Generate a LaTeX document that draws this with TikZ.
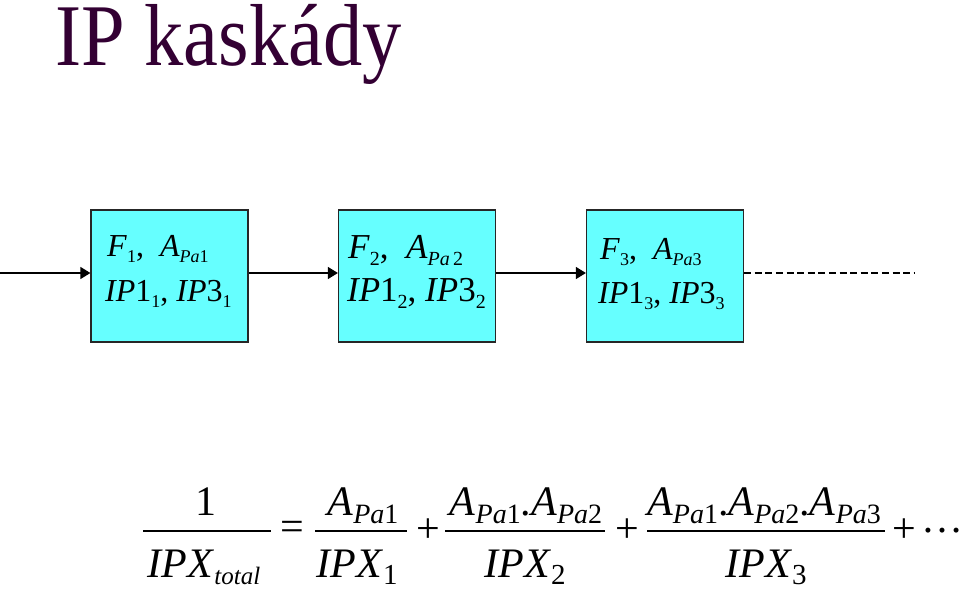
\documentclass[tikz,border=0pt]{standalone}
\usepackage{fontspec}
\setmainfont{Liberation Serif}
\usetikzlibrary{arrows.meta}
\definecolor{boxcyan}{RGB}{102,255,255}
\definecolor{titlepurple}{RGB}{51,0,51}
\newcommand\bsub[1]{\raisebox{-6pt}{\fontsize{18}{20}\selectfont #1}}
\newcommand\bsubb[1]{\raisebox{-7pt}{\fontsize{20}{22}\selectfont #1}}
\newcommand\fsb[1]{\raisebox{-8pt}{\fontsize{28}{30}\selectfont #1}}
\newcommand\dsb[1]{\raisebox{-7pt}{\fontsize{29}{30}\selectfont #1}}
\tikzset{
  stage/.style={draw=black!85, line width=1.2pt, fill=boxcyan,
    minimum width=157pt, minimum height=132pt, inner sep=0pt},
  boxtxt/.style={anchor=base west, inner sep=0pt, font=\fontsize{32}{36}\selectfont},
  boxtxtb/.style={anchor=base west, inner sep=0pt, font=\fontsize{35}{38}\selectfont},
  arr/.style={line width=1.2pt, -{Triangle[length=10pt,width=12pt]}},
  eqtxt/.style={anchor=base, inner sep=0pt, font=\fontsize{42}{46}\selectfont},
  eqop/.style={inner sep=0pt, font=\fontsize{42}{46}\selectfont},
  fbar/.style={line width=1.6pt},
}
\begin{document}
\begin{tikzpicture}[x=1pt,y=-1pt]
\useasboundingbox (0,0) rectangle (960,589);
% title
\node[anchor=base west, inner sep=0pt, text=titlepurple] (title) at (55,65)
  {\scalebox{0.98}[1.1]{\fontsize{80}{90}\selectfont IP kaskády}};
% boxes
\node[stage] (b1) at (169.5,276) {};
\node[stage] (b2) at (417,276) {};
\node[stage] (b3) at (665,276) {};
% box texts
\node[boxtxt] (t1a) at (107,256) {\textit{F}\bsub{1}, \ \textit{A}\bsub{\textit{Pa}1}};
\node[boxtxt] (t1b) at (105,301) {\textit{IP}1\bsub{1}, \textit{IP}3\bsub{1}};
\node[boxtxtb] (t2a) at (348,258) {\textit{F}\bsubb{2}, \ \textit{A}\bsubb{\textit{Pa}\,2}};
\node[boxtxtb] (t2b) at (347,301) {\textit{IP}1\bsubb{2}, \textit{IP}3\bsubb{2}};
\node[boxtxt] (t3a) at (600,259) {\textit{F}\bsub{3}, \ \textit{A}\bsub{\textit{Pa}3}};
\node[boxtxt] (t3b) at (598,303) {\textit{IP}1\bsub{3}, \textit{IP}3\bsub{3}};
% connectors
\coordinate (in) at (0,273);
\coordinate (out) at (915,273);
\draw[arr] (in) -- ([yshift=3pt]b1.west);
\draw[arr] ([yshift=3pt]b1.east) -- ([yshift=3pt]b2.west);
\draw[arr] ([yshift=3pt]b2.east) -- ([yshift=3pt]b3.west);
\draw[line width=1.2pt, dash pattern=on 7pt off 3.6pt] ([yshift=3pt]b3.east) -- (out);
% formula
\draw[fbar] (143,531) -- (271,531);
\draw[fbar] (315,531) -- (407,531);
\draw[fbar] (445,531) -- (605,531);
\draw[fbar] (647,531) -- (885,531);
\node[eqtxt] (n1) at (206,515) {1};
\node[eqtxt] (d1) at (204,577) {\textit{IPX}\raisebox{-7pt}{\fontsize{25}{26}\selectfont\textit{total}}};
\node[eqop] (eq) at (292,531) {=};
\node[eqtxt] (n2) at (363,515) {\textit{A}\fsb{\textit{Pa}1}};
\node[eqtxt] (d2) at (357,577) {\textit{IPX}\dsb{1}};
\node[eqop] (p1) at (428,531) {+};
\node[eqtxt] (n3) at (526,515) {\textit{A}\fsb{\textit{Pa}1}.\textit{A}\fsb{\textit{Pa}2}};
\node[eqtxt] (d3) at (525,577) {\textit{IPX}\dsb{2}};
\node[eqop] (p2) at (627,531) {+};
\node[eqtxt] (n4) at (764,515) {\textit{A}\fsb{\textit{Pa}1}.\textit{A}\fsb{\textit{Pa}2}.\textit{A}\fsb{\textit{Pa}3}};
\node[eqtxt] (d4) at (766,577) {\textit{IPX}\dsb{3}};
\node[eqop] (p3) at (904,531) {+};
\node[eqop] (dots) at (942,531) {…};
\end{tikzpicture}
\end{document}
